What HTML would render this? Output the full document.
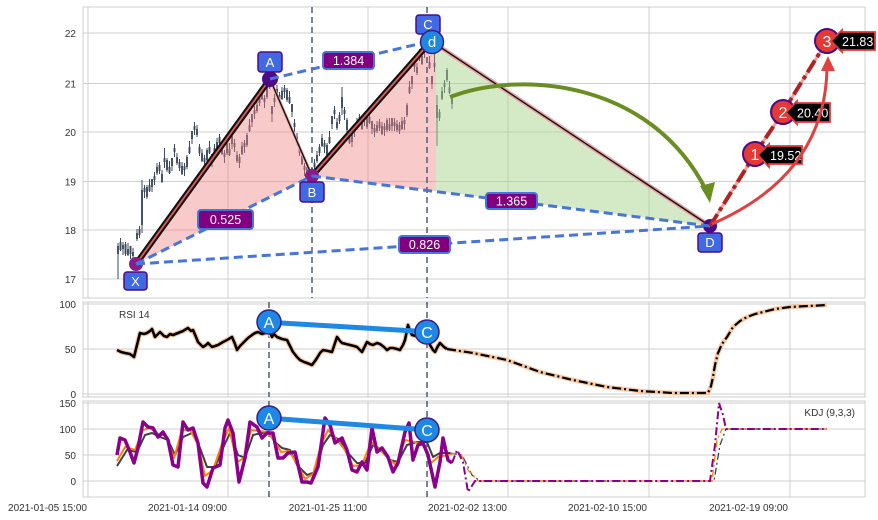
<!DOCTYPE html>
<html><head><meta charset="utf-8"><style>
html,body{margin:0;padding:0;background:#fff;}
svg{display:block;font-family:"Liberation Sans",Arial,sans-serif;}
</style></head><body>
<svg width="878" height="520" viewBox="0 0 878 520" xmlns="http://www.w3.org/2000/svg">
<defs>
<clipPath id="cm"><rect x="83" y="7" width="782" height="291"/></clipPath>
<clipPath id="cr"><rect x="83" y="302" width="782" height="95"/></clipPath>
<clipPath id="ck"><rect x="83" y="401" width="782" height="96"/></clipPath>
</defs>
<rect width="878" height="520" fill="#fff"/>
<!-- grids -->
<g stroke="#cfcfcf" stroke-width="1" fill="none">
<path d="M88 7V298M228 7V298M368 7V298M508 7V298M649 7V298M790 7V298"/>
<path d="M83 33H865M83 83.5H865M83 132H865M83 181.5H865M83 230H865M83 279H865"/>
<path d="M88 302V397M228 302V397M368 302V397M508 302V397M649 302V397M790 302V397"/>
<path d="M83 304H865M83 349H865M83 394H865"/>
<path d="M88 401V497M228 401V497M368 401V497M508 401V497M649 401V497M790 401V497"/>
<path d="M83 403H865M83 429H865M83 455H865M83 481H865"/>
<rect x="83" y="7" width="782" height="291"/>
<rect x="83" y="302" width="782" height="95"/>
<rect x="83" y="401" width="782" height="96"/>
</g>
<!-- tick labels -->
<g font-size="10" fill="#333" text-anchor="end">
<text x="76" y="37">22</text><text x="76" y="87.5">21</text><text x="76" y="136">20</text>
<text x="76" y="185.5">19</text><text x="76" y="234">18</text><text x="76" y="283">17</text>
<text x="76" y="308">100</text><text x="76" y="353">50</text><text x="76" y="398">0</text>
<text x="76" y="407">150</text><text x="76" y="433">100</text><text x="76" y="459">50</text><text x="76" y="485">0</text>
<text x="87" y="511">2021-01-05 15:00</text><text x="227" y="511">2021-01-14 09:00</text>
<text x="367" y="511">2021-01-25 11:00</text><text x="507" y="511">2021-02-02 13:00</text>
<text x="647" y="511">2021-02-10 15:00</text><text x="788" y="511">2021-02-19 09:00</text>
</g>

<!-- MAIN PANEL -->
<g clip-path="url(#cm)">
<!-- candles -->
<g stroke="#3c4a5e" fill="none">
<path stroke-width="1" d="M118 243V279 M120.5 238V251 M123 242V255 M125.5 242V256 M128 243V256 M130.5 246V259 M133 248V261 M137 229V241 M139.5 226V238 M142 180V233 M144.5 185V198 M147 185V199 M149.5 179V192 M152 179V192 M154.5 172V185 M157 163V175 M159.5 162V174 M162 170V183 M164.5 148V168 M167 158V172 M169.5 161V174 M172 158V171 M174.5 144V157 M177 153V165 M179.5 159V171 M182 162V175 M184.5 163V176 M187 155V169 M189.5 141V154 M192 131V144 M194.5 122V135 M197 125V137 M199.5 144V156 M202 149V162 M204.5 155V168 M207 148V162 M209.5 141V154 M212 154V167 M214.5 144V157 M217 138V150 M219.5 134V146 M222 142V155 M224.5 150V163 M227 141V155 M229.5 143V156 M232 136V149 M234.5 139V152 M237 151V163 M239.5 154V168 M242 142V155 M244.5 140V153 M247 133V147 M249.5 119V132 M252 114V127 M254.5 106V119 M257 101V113 M259.5 94V106 M262 87V100 M264.5 95V108 M267 85V99 M269.5 76V89 M272 106V122 M274.5 94V107 M277 85V97 M279.5 92V104 M282 87V100 M284.5 85V98 M287 88V102 M289.5 91V104 M292 104V117 M294.5 119V132 M297 133V145 M299.5 144V156 M302 152V165 M304.5 163V176 M307 165V179 M309.5 167V180 M312 168V181 M314.5 159V172 M317 151V163 M319.5 144V156 M322 134V147 M324.5 140V153 M327 143V157 M329.5 131V144 M332 116V129 M334.5 106V119 M337 118V130 M339.5 112V124 M342 87V115 M344.5 107V120 M347 118V132 M349.5 131V144 M352 134V147 M354.5 124V137 M357 118V130 M359.5 114V126 M362 117V130 M364.5 113V126 M367 115V129 M369.5 111V124 M372 121V134 M374.5 124V137 M377 121V133 M379.5 119V131 M382 122V135 M384.5 123V136 M387 118V132 M389.5 118V131 M392 118V131 M394.5 118V131 M397 120V132 M399.5 122V134 M402 117V130 M404.5 117V130 M407 103V117 M409.5 81V94 M412 76V89 M414.5 59V72 M417 63V75 M419.5 49V61 M422 52V65 M424.5 45V58 M427 38V52 M429.5 56V69 M432 76V89 M434.5 50V72 M437 95V146 M439.5 109V121 M442 87V100 M444.5 80V93 M447 68V82 M449.5 81V94 M452 96V109"/>
<path stroke-width="1.9" d="M118 246V254 M120.5 242V250 M123 245V249 M125.5 244V254 M128 249V255 M130.5 246V254 M133 252V256 M137 233V239 M139.5 229V235 M142 190V225 M144.5 188V192 M147 187V197 M149.5 185V191 M152 179V187 M154.5 176V180 M157 167V173 M159.5 165V171 M162 174V182 M164.5 158V162 M167 160V170 M169.5 167V173 M172 158V166 M174.5 148V152 M177 157V163 M179.5 162V168 M182 166V174 M184.5 166V170 M187 157V167 M189.5 147V153 M192 131V139 M194.5 126V130 M197 129V135 M199.5 147V153 M202 153V161 M204.5 158V162 M207 150V160 M209.5 147V153 M212 154V162 M214.5 148V152 M217 142V148 M219.5 137V143 M222 146V154 M224.5 153V157 M227 143V153 M229.5 149V155 M232 136V144 M234.5 143V147 M237 155V161 M239.5 157V163 M242 146V154 M244.5 143V147 M247 135V145 M249.5 125V131 M252 114V122 M254.5 110V114 M257 105V111 M259.5 97V103 M262 91V99 M264.5 98V102 M267 87V97 M269.5 82V88 M272 106V114 M274.5 98V102 M277 89V95 M279.5 95V101 M282 91V99 M284.5 88V92 M287 90V100 M289.5 97V103 M292 104V112 M294.5 123V127 M297 137V143 M299.5 147V153 M302 156V164 M304.5 166V170 M307 167V177 M309.5 173V179 M312 168V176 M314.5 163V167 M317 155V161 M319.5 147V153 M322 138V146 M324.5 143V147 M327 145V155 M329.5 137V143 M332 116V124 M334.5 110V114 M337 122V128 M339.5 115V121 M342 97V108 M344.5 110V114 M347 120V130 M349.5 137V143 M352 134V142 M354.5 128V132 M357 122V128 M359.5 117V123 M362 121V129 M364.5 116V120 M367 117V127 M369.5 117V123 M372 121V129 M374.5 128V132 M377 125V131 M379.5 122V128 M382 126V134 M384.5 126V130 M387 120V130 M389.5 124V130 M392 118V126 M394.5 122V126 M397 124V130 M399.5 125V131 M402 121V129 M404.5 120V124 M407 105V115 M409.5 87V93 M412 76V84 M414.5 63V67 M417 67V73 M419.5 52V58 M422 56V64 M424.5 48V52 M427 40V50 M429.5 62V68 M432 76V84 M434.5 63V67 M437 105V118 M439.5 112V118 M442 91V99 M444.5 83V87 M447 70V80 M449.5 87V93 M452 96V104"/>
</g>
<!-- fills -->
<polygon points="136,264 270,79 312,176" fill="#f08080" fill-opacity="0.42"/>
<polygon points="312,176 431,41 436,44 436,191" fill="#f08080" fill-opacity="0.42"/>
<polygon points="436,44 710,226 436,191" fill="#a6d38a" fill-opacity="0.48"/>
<!-- vertical dashed -->
<g stroke="#4f5d73" stroke-width="1.5" stroke-dasharray="6,4">
<path d="M312 7V298M427 7V298"/>
</g>
<!-- pattern lines -->
<line x1="431" y1="41" x2="710" y2="226" stroke="#eba3a3" stroke-width="4.5"/>
<line x1="431" y1="41" x2="710" y2="226" stroke="#111" stroke-width="1.4"/>
<line x1="270" y1="79" x2="312" y2="176" stroke="#eba3a3" stroke-width="3"/>
<line x1="270" y1="79" x2="312" y2="176" stroke="#111" stroke-width="1.4"/>
<line x1="136" y1="264" x2="270" y2="79" stroke="#111" stroke-width="6"/>
<line x1="136" y1="264" x2="270" y2="79" stroke="#e25b5b" stroke-width="1.8"/>
<line x1="312" y1="176" x2="431" y2="41" stroke="#111" stroke-width="6"/>
<line x1="312" y1="176" x2="431" y2="41" stroke="#e25b5b" stroke-width="1.8"/>
<!-- markers -->
<circle cx="136" cy="264" r="7" fill="#8b1a8b"/>
<circle cx="270" cy="79" r="8" fill="#4b0a8a"/>
<circle cx="312" cy="176" r="7" fill="#8b1a8b"/>
<circle cx="710" cy="226" r="7" fill="#4b0a8a"/>
<!-- dashed blue lines -->
<g stroke="#4675dc" stroke-width="3" stroke-dasharray="9,5" fill="none">
<line x1="136" y1="264" x2="312" y2="176"/>
<line x1="270" y1="79" x2="431" y2="41"/>
<line x1="312" y1="176" x2="710" y2="226"/>
<line x1="136" y1="264" x2="710" y2="226"/>
</g>
<!-- value labels -->
<g stroke="#4675dc" stroke-width="2" fill="#800080">
<rect x="198" y="210" width="55" height="19" rx="3"/>
<rect x="323" y="52" width="51" height="17" rx="3"/>
<rect x="486" y="193" width="51" height="16" rx="3"/>
<rect x="399" y="236" width="51" height="17" rx="3"/>
</g>
<g fill="#fff" font-size="12.5" text-anchor="middle">
<text x="225.5" y="224">0.525</text>
<text x="348.5" y="65">1.384</text>
<text x="511.5" y="205.5">1.365</text>
<text x="424.5" y="249">0.826</text>
</g>
<!-- green arrow -->
<path d="M450 97 C520 70 650 80 706 190" stroke="#6b8e23" stroke-width="4" fill="none"/>
<polygon points="710,203 700,186 715,182" fill="#6b8e23"/>
<!-- point labels -->
<g fill="#4169e1" stroke="#4b0a8a" stroke-width="1.5">
<rect x="124" y="272" width="23" height="18" rx="3"/>
<rect x="258" y="52" width="24" height="20" rx="3"/>
<rect x="300" y="182" width="24" height="20" rx="3"/>
<rect x="416" y="15" width="24" height="19" rx="3"/>
<rect x="698" y="233" width="24" height="19" rx="3"/>
</g>
<circle cx="432" cy="42" r="11.5" fill="#1e88e5" stroke="#3a1d8a" stroke-width="1.5"/>
<g fill="#fff" font-size="13" text-anchor="middle">
<text x="135.5" y="286">X</text>
<text x="270" y="67">A</text>
<text x="312" y="197">B</text>
<text x="428" y="29">C</text>
<text x="710" y="247">D</text>
<text x="432" y="47" font-size="15">d</text>
</g>
</g>
<!-- red projection (unclipped) -->
<polyline points="710,226 755,154 783,112 827,41" stroke="#f2a0a0" stroke-width="3" fill="none"/>
<polyline points="710,226 755,154 783,112 827,41" stroke="#b22222" stroke-width="4" stroke-dasharray="14,4,4,4" fill="none"/>
<g fill="#e53935" stroke="#4b0a8a" stroke-width="2">
<circle cx="755" cy="154" r="12"/>
<circle cx="783" cy="112" r="12"/>
<circle cx="827" cy="41" r="12"/>
</g>
<g fill="#fff" font-size="16" text-anchor="middle">
<text x="755" y="160">1</text>
<text x="783" y="118">2</text>
<text x="827" y="47">3</text>
</g>
<g fill="#000" stroke="#e53935" stroke-width="1.8">
<polygon points="758,155 769,144 769,146 802,146 802,164 769,164 769,167"/>
<polygon points="786,112.5 797,101 797,103 830,103 830,122 797,122 797,124"/>
<polygon points="831,41 842,30 842,32 875,32 875,50 842,50 842,52"/>
</g>
<g fill="#fff" font-size="12.5">
<text x="770" y="160">19.52</text>
<text x="797" y="117.5">20.40</text>
<text x="842" y="46">21.83</text>
</g>
<path d="M712 224 Q825 175 827 68" stroke="#e04040" stroke-width="3" fill="none"/>
<polygon points="828,56 821,71 835,71" fill="#e04040"/>

<!-- RSI PANEL -->
<g clip-path="url(#cr)">
<g stroke="#4f5d73" stroke-width="1.5" stroke-dasharray="6,4">
<path d="M269 302V397M427 302V397"/>
</g>
<polyline fill="none" stroke="#f9c8a0" stroke-width="5" stroke-linejoin="round" points="117,350 121,352 125,353 130,354 134,357 137,345 140,333 144,334 147,333 150,331 152,329 155,337 158,334 160,332 164,336 167,337 170,334 173,335 178,333 183,331 188,328 191,331 193,330 196,337 198,342 203,347 206,345 208,343 212,347 215,346 218,345 223,342 227,340 232,337 235,344 237,350 240,346 243,343 248,338 252,335 255,333 258,332 262,334 265,333 269,330 272,337 274,334 277,337 282,339 287,340 290,346 293,352 297,357 300,360 304,362 307,363 312,365 315,361 317,358 320,353 323,350 328,351 332,352 335,343 337,337 340,341 342,343 346,344 350,345 354,346 357,347 360,350 362,352 365,346 367,342 370,344 373,345 377,343 380,344 384,347 387,350 390,348 393,348 397,349 400,350 403,345 405,340 407,330 408,325 410,331 412,335 416,336 420,335 424,333 427,332 430,345 433,350 435,352 438,346 440,343 444,347 447,349"/>
<polyline fill="none" stroke="#f9c8a0" stroke-width="4.5" points="447,349 473,353 507,360 540,372 573,380 607,387 640,391 673,393 708,393 711,386 713,377 715,365 718,353 722,344 727,337 733,327 740,321 747,317 755,314 763,312 775,309 790,307 808,306 827,305"/>
<polyline fill="none" stroke="#000" stroke-width="2.6" stroke-linejoin="round" points="117,350 121,352 125,353 130,354 134,357 137,345 140,333 144,334 147,333 150,331 152,329 155,337 158,334 160,332 164,336 167,337 170,334 173,335 178,333 183,331 188,328 191,331 193,330 196,337 198,342 203,347 206,345 208,343 212,347 215,346 218,345 223,342 227,340 232,337 235,344 237,350 240,346 243,343 248,338 252,335 255,333 258,332 262,334 265,333 269,330 272,337 274,334 277,337 282,339 287,340 290,346 293,352 297,357 300,360 304,362 307,363 312,365 315,361 317,358 320,353 323,350 328,351 332,352 335,343 337,337 340,341 342,343 346,344 350,345 354,346 357,347 360,350 362,352 365,346 367,342 370,344 373,345 377,343 380,344 384,347 387,350 390,348 393,348 397,349 400,350 403,345 405,340 407,330 408,325 410,331 412,335 416,336 420,335 424,333 427,332 430,345 433,350 435,352 438,346 440,343 444,347 447,349"/>
<polyline fill="none" stroke="#000" stroke-width="2.2" stroke-dasharray="9,3,2,3" points="447,349 473,353 507,360 540,372 573,380 607,387 640,391 673,393 708,393 711,386 713,377 715,365 718,353 722,344 727,337 733,327 740,321 747,317 755,314 763,312 775,309 790,307 808,306 827,305"/>
<line x1="281" y1="323" x2="415" y2="331" stroke="#1e88e5" stroke-width="5"/>
<circle cx="269" cy="322" r="12" fill="#1e88e5" stroke="#3a1d8a" stroke-width="1.5"/>
<circle cx="427" cy="332" r="12" fill="#1e88e5" stroke="#3a1d8a" stroke-width="1.5"/>
<g fill="#fff" font-size="16" text-anchor="middle">
<text x="269" y="328">A</text><text x="427" y="338">C</text>
</g>
</g>
<text x="119" y="318" font-size="10" fill="#333">RSI 14</text>

<!-- KDJ PANEL -->
<g clip-path="url(#ck)">
<g stroke="#4f5d73" stroke-width="1.5" stroke-dasharray="6,4">
<path d="M269 401V497M427 401V497"/>
</g>
<polyline fill="none" stroke="#404040" stroke-width="2" stroke-linejoin="round" points="117,466 127,450 137,452 145,435 152,433 160,437 168,440 175,455 183,437 192,433 200,448 207,467 215,467 223,448 230,433 238,455 245,458 253,435 262,433 268,432 275,442 282,448 290,450 297,465 307,475 315,472 323,445 330,435 340,440 348,453 357,463 365,463 373,445 382,450 390,460 398,462 407,445 417,442 427,442 433,457 440,453 450,453"/>
<polyline fill="none" stroke="#ff7f0e" stroke-width="2" stroke-linejoin="round" points="117,461 125,447 135,450 143,430 150,428 158,434 166,436 174,458 182,430 190,430 198,444 205,476 213,470 222,444 229,428 237,462 244,458 251,430 260,431 267,432 274,440 281,452 289,451 296,462 305,479 313,474 321,445 328,430 337,440 345,450 353,466 362,465 371,442 380,450 388,458 396,465 405,440 415,442 424,446 431,463 438,457 448,455"/>
<polyline fill="none" stroke="#8b008b" stroke-width="3.5" stroke-linejoin="round" points="117,455 120,438 125,440 130,452 134,463 138,448 143,422 148,427 153,428 158,437 163,432 168,440 173,465 178,467 183,422 188,430 193,428 198,443 203,483 207,487 213,468 220,465 225,428 228,420 233,433 239,482 245,458 250,422 257,427 262,438 267,433 273,433 278,458 283,458 288,453 295,452 302,482 307,482 311,483 318,467 325,418 330,425 335,443 342,438 347,450 352,470 357,472 362,462 367,470 372,428 377,452 382,448 388,457 393,472 398,463 405,432 409,423 413,460 418,445 423,443 428,455 435,487 440,462 443,438 448,460 452,463"/>
<polyline fill="none" stroke="#404040" stroke-width="1.3" stroke-dasharray="7,3,2,3" points="450,453 462,455 472,475 480,481 714,481 720,445 726,429 827,429"/>
<polyline fill="none" stroke="#ff7f0e" stroke-width="1.3" stroke-dasharray="7,3,2,3" points="448,455 460,452 468,470 478,481 712,481 717,440 722,429 827,429"/>
<polyline fill="none" stroke="#8b008b" stroke-width="2" stroke-dasharray="8,3,2,3" points="452,463 457,450 463,462 468,492 475,481 710,481 715,445 719,403 723,415 726,429 827,429"/>
<line x1="281" y1="419" x2="415" y2="429" stroke="#1e88e5" stroke-width="5"/>
<circle cx="269" cy="418" r="12" fill="#1e88e5" stroke="#3a1d8a" stroke-width="1.5"/>
<circle cx="427" cy="430" r="12" fill="#1e88e5" stroke="#3a1d8a" stroke-width="1.5"/>
<g fill="#fff" font-size="16" text-anchor="middle">
<text x="269" y="424">A</text><text x="427" y="436">C</text>
</g>
</g>
<text x="855" y="416" font-size="10" fill="#333" text-anchor="end">KDJ (9,3,3)</text>
</svg>
</body></html>
